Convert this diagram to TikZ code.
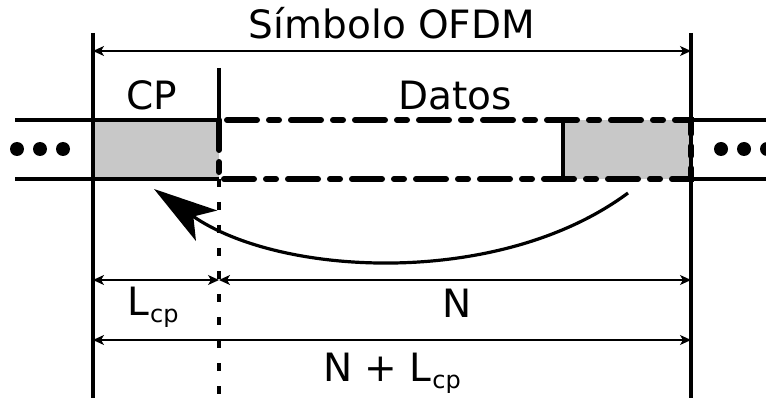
\documentclass[tikz,border=0pt]{standalone}
\usepackage{fontspec}
\setmainfont{DejaVu Sans}
\usetikzlibrary{arrows.meta}
\newcommand\Lsub{L\kern1pt\raisebox{-7pt}{\fontsize{24}{26}\selectfont cp}}
\begin{document}
\begin{tikzpicture}[x=1pt,y=-1pt,
  lbl/.style={anchor=base,inner sep=0pt,font=\fontsize{39}{46}\selectfont},
  thickline/.style={line width=3.4pt},
  dashdotbox/.style={line width=6pt,line cap=round,dash pattern=on 30pt off 12pt on 10pt off 12pt},
  dimline/.style={line width=1.4pt,{Stealth[length=11pt,width=10pt,inset=3pt]}-{Stealth[length=11pt,width=10pt,inset=3pt]}},
  greyfill/.style={fill={rgb,255:red,200;green,200;blue,200}},
  dot/.style={circle,fill=black,inner sep=0pt,minimum size=14pt}]
\useasboundingbox (0,0) rectangle (766,398);
% coordinates
\coordinate (LT) at (93,33); \coordinate (LB) at (93,398);
\coordinate (RT) at (691,33); \coordinate (RB) at (691,398);
\coordinate (MT) at (219,68); \coordinate (MA) at (219,120); \coordinate (MB) at (219,179); \coordinate (MD) at (219,398);
\coordinate (lt0) at (15,120); \coordinate (lb0) at (15,179);
\coordinate (rt0) at (691,120); \coordinate (rb0) at (691,179);
\coordinate (rt1) at (766,120); \coordinate (rb1) at (766,179);
\coordinate (cpA) at (93,120);
\coordinate (gA) at (563,120); \coordinate (gB) at (563,179);
\coordinate (d0L) at (93,51); \coordinate (d0R) at (691,51);
\coordinate (d1L) at (93,280); \coordinate (d1M) at (219,280); \coordinate (d1R) at (691,280);
\coordinate (d2L) at (93,340); \coordinate (d2R) at (691,340);
\coordinate (cs) at (628,193); \coordinate (ce) at (154,189);
% grey boxes
\fill[greyfill] (cpA) rectangle (MB);
\fill[greyfill] (gA) rectangle (rb0);
% solid horizontals
\draw[thickline] (lt0) -- (MA);
\draw[thickline] (lb0) -- (MB);
\draw[thickline] (rt0) -- (rt1);
\draw[thickline] (rb0) -- (rb1);
\draw[thickline] (gA) -- (gB);
% dash-dot data box
\draw[dashdotbox] (MA) rectangle (rb0);
% verticals
\draw[thickline] (LT) -- (LB);
\draw[thickline] (RT) -- (RB);
\draw[thickline] (MT) -- (MA);
\draw[thickline,dash pattern=on 8pt off 15pt] (MB) -- (MD);
% dimension lines
\draw[dimline] (d0L) -- (d0R);
\draw[dimline] (d1L) -- (d1M);
\draw[dimline] (d1M) -- (d1R);
\draw[dimline] (d2L) -- (d2R);
% curved arrow
\draw[line width=3.2pt,-{Stealth[length=64pt,width=37pt,inset=16pt]}] (cs) .. controls (500,288) and (280,277) .. (ce);
% dots
\foreach \i/\x in {1/17,2/40,3/63,4/721,5/744,6/767} \node[dot] (dot\i) at (\x,149) {};
% labels
\node[lbl] (ofdm) at (392,39) {Símbolo OFDM};
\node[lbl] (cp) at (152,110) {CP};
\node[lbl] (datos) at (455,110) {Datos};
\node[lbl] (lcp) at (153,316) {\Lsub};
\node[lbl] (n) at (457,317) {N};
\node[lbl] (nlcp) at (392,381) {N + \Lsub};
\end{tikzpicture}
\end{document}
